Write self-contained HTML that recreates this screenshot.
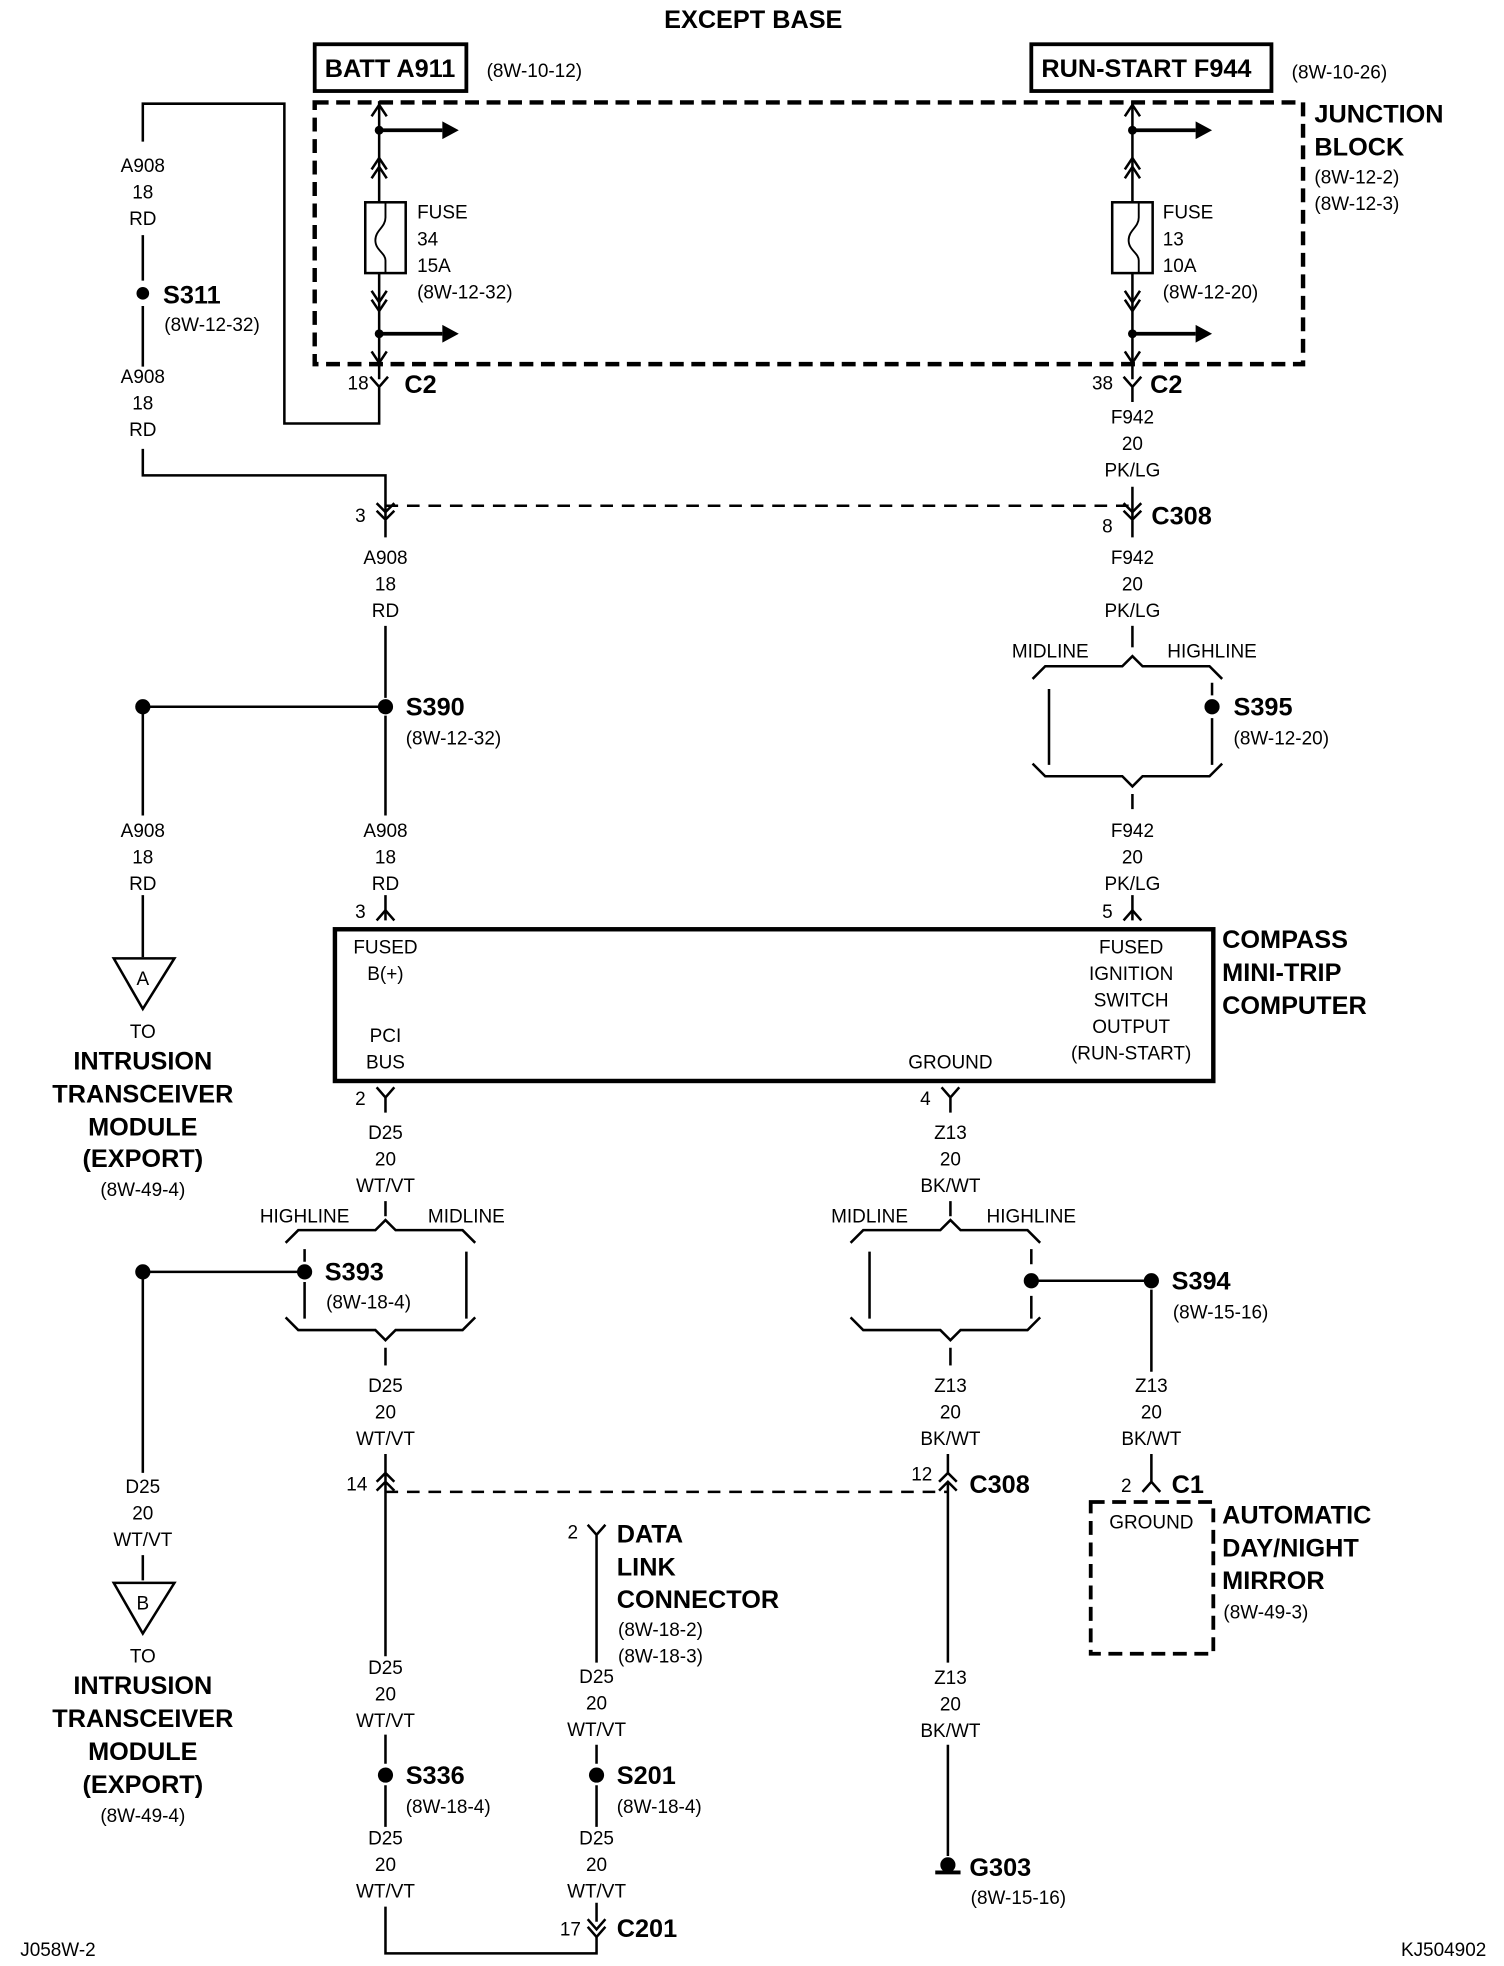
<!DOCTYPE html>
<html><head><meta charset="utf-8">
<style>
html,body{margin:0;padding:0;background:#fff;}
svg{display:block;}
text{font-family:"Liberation Sans Narrow","Liberation Sans",sans-serif;fill:#000;}
.t{font-size:15px;text-anchor:middle;}
.l{font-size:15px;}
.b{font-size:20px;font-weight:bold;}
.bc{font-size:20px;font-weight:bold;text-anchor:middle;}
</style></head><body>
<svg width="1504" height="1966" viewBox="0 0 1190 1555" preserveAspectRatio="none" xmlns="http://www.w3.org/2000/svg">
<g fill="none" stroke="#000" stroke-width="2">
<!-- top boxes -->
<rect x="249" y="35" width="120" height="37" stroke-width="3"/>
<rect x="816" y="35" width="190" height="37" stroke-width="3"/>
<rect x="249" y="81" width="782" height="207" stroke-width="3.5" stroke-dasharray="11,6"/>
<!-- left fuse chain -->
<path d="M300 80 V300"/>
<path d="M294 92 L300 83 L306 92"/>
<path d="M294 134 L300 125 L306 134 M294 141 L300 132 L306 141"/>
<path d="M294 230 L300 239 L306 230 M294 237 L300 246 L306 237"/>
<path d="M294 278 L300 287 L306 278"/>
<rect x="289" y="160" width="32" height="56" fill="#fff"/>
<path d="M305 160 V172 C305 180 297 182 297 190 C297 198 305 200 305 206 V216" stroke-width="1.5"/>
<path d="M300 103 H350 M300 264 H350" stroke-width="3"/>
<path d="M293 298 L300 306 L307 298 M300 306 V335 H225 V82 H113 V112"/>
<!-- right fuse chain -->
<path d="M896 80 V300"/>
<path d="M890 92 L896 83 L902 92"/>
<path d="M890 134 L896 125 L902 134 M890 141 L896 132 L902 141"/>
<path d="M890 230 L896 239 L902 230 M890 237 L896 246 L902 237"/>
<path d="M890 278 L896 287 L902 278"/>
<rect x="880" y="160" width="32" height="56" fill="#fff"/>
<path d="M901 160 V172 C901 180 893 182 893 190 C893 198 901 200 901 206 V216" stroke-width="1.5"/>
<path d="M896 103 H946 M896 264 H946" stroke-width="3"/>
<path d="M889 298 L896 306 L903 298 M896 306 V318"/>
<!-- left A908 -->
<path d="M113 186 V222 M113 242 V290 M113 355 V376 H305 V412"/>
<path d="M298 398 L305 405 L312 398 M298 404 L305 411 L312 404"/>
<path d="M305 400 H896" stroke-dasharray="10,7"/>
<path d="M896 385 V412"/>
<path d="M889 398 L896 405 L903 398 M889 404 L896 411 L903 404"/>
<path d="M305 412 V425 M896 412 V425"/>
<path d="M305 495 V552 M305 566 V645 M305 708 V728"/>
<path d="M298 728 L305 720 L312 728"/>
<path d="M113 559 H305 M113 559 V645 M113 708 V757"/>
<path d="M90 758 H138 L113 798 Z"/>
<!-- right bracket S395 -->
<path d="M896 495 V512"/>
<path d="M817 537 L827 527 H888 L896 519 L904 527 H957 L967 537"/>
<path d="M830 545 V605 M959 540 V550 M959 568 V605"/>
<path d="M817 604 L827 614 H888 L896 622 L904 614 H957 L967 604"/>
<path d="M896 628 V640 M896 708 V728"/>
<path d="M889 728 L896 720 L903 728"/>
<!-- compass box -->
<rect x="265" y="735" width="695" height="120" stroke-width="3.5"/>
<!-- below box left -->
<path d="M298 860 L305 868 L312 860 M305 868 V880 M305 950 V962"/>
<path d="M226 983 L236 973 H297 L305 965 L313 973 H366 L376 983"/>
<path d="M241 988 V998 M241 1014 V1043 M369 990 V1043"/>
<path d="M226 1042 L236 1052 H297 L305 1060 L313 1052 H366 L376 1042"/>
<path d="M305 1066 V1080"/>
<path d="M113 1006 H241 M113 1006 V1165 M113 1230 V1250"/>
<path d="M90 1252 H138 L113 1292 Z"/>
<path d="M305 1150 V1310 M298 1172 L305 1165 L312 1172 M298 1179 L305 1172 L312 1179"/>
<path d="M305 1180 H750" stroke-dasharray="10,7"/>
<path d="M305 1372 V1395 M305 1412 V1445 M305 1508 V1545 H472 V1532"/>
<path d="M465 1518 L472 1526 L479 1518 M465 1524 L472 1532 L479 1524 M472 1505 V1520"/>
<!-- data link -->
<path d="M465 1206 L472 1214 L479 1206 M472 1214 V1315 M472 1380 V1395 M472 1412 V1445"/>
<!-- ground Z13 -->
<path d="M745 860 L752 868 L759 860 M752 868 V880 M752 950 V962"/>
<path d="M673 983 L683 973 H744 L752 965 L760 973 H813 L823 983"/>
<path d="M688 990 V1043 M816 988 V1000 M816 1025 V1043"/>
<path d="M673 1042 L683 1052 H744 L752 1060 L760 1052 H813 L823 1042"/>
<path d="M752 1066 V1080"/>
<path d="M816 1013 H911 M911 1020 V1085"/>
<path d="M743 1172 L750 1165 L757 1172 M743 1179 L750 1172 L757 1179 M750 1150 V1166 M750 1172 V1315 M750 1380 V1468"/>
<path d="M904 1180 L911 1172 L918 1180 M911 1150 V1172"/>
<rect x="863" y="1188" width="97" height="120" stroke-width="3" stroke-dasharray="11,6"/>
<path d="M740 1481 H760" stroke-width="3"/>
</g>
<g fill="#000">
<polygon points="350,96 363,103 350,110"/><polygon points="350,257 363,264 350,271"/>
<polygon points="946,96 959,103 946,110"/><polygon points="946,257 959,264 946,271"/>
<circle cx="300" cy="103" r="3.5"/><circle cx="300" cy="264" r="3.5"/>
<circle cx="896" cy="103" r="3.5"/><circle cx="896" cy="264" r="3.5"/>
<circle cx="113" cy="232" r="5"/><circle cx="305" cy="559" r="6"/><circle cx="113" cy="559" r="6"/>
<circle cx="959" cy="559" r="6"/><circle cx="241" cy="1006" r="6"/><circle cx="113" cy="1006" r="6"/>
<circle cx="816" cy="1013" r="6"/><circle cx="911" cy="1013" r="6"/>
<circle cx="305" cy="1404" r="6"/><circle cx="472" cy="1404" r="6"/>
<circle cx="750" cy="1475" r="6"/>
</g>
<text class="bc" x="596" y="22" font-size="22">EXCEPT BASE</text>
<text class="b" x="257" y="61">BATT A911</text><text class="l" x="385" y="61">(8W-10-12)</text>
<text class="b" x="824" y="61">RUN-START F944</text><text class="l" x="1022" y="62">(8W-10-26)</text>
<text class="b" x="1040" y="97">JUNCTION</text><text class="b" x="1040" y="123">BLOCK</text>
<text class="l" x="1040" y="145">(8W-12-2)</text><text class="l" x="1040" y="166">(8W-12-3)</text>
<text class="l" x="330" y="173">FUSE</text><text class="l" x="330" y="194">34</text><text class="l" x="330" y="215">15A</text><text class="l" x="330" y="236">(8W-12-32)</text>
<text class="l" x="920" y="173">FUSE</text><text class="l" x="920" y="194">13</text><text class="l" x="920" y="215">10A</text><text class="l" x="920" y="236">(8W-12-20)</text>
<text class="t" x="113" y="136">A908</text><text class="t" x="113" y="157">18</text><text class="t" x="113" y="178">RD</text>
<text class="b" x="129" y="240">S311</text><text class="l" x="130" y="262">(8W-12-32)</text>
<text class="t" x="113" y="303">A908</text><text class="t" x="113" y="324">18</text><text class="t" x="113" y="345">RD</text>
<text class="l" x="275" y="308">18</text><text class="b" x="320" y="311">C2</text>
<text class="l" x="864" y="308">38</text><text class="b" x="910" y="311">C2</text>
<text class="t" x="896" y="335">F942</text><text class="t" x="896" y="356">20</text><text class="t" x="896" y="377">PK/LG</text>
<text class="l" x="281" y="413">3</text><text class="l" x="872" y="421">8</text><text class="b" x="911" y="415">C308</text>
<text class="t" x="305" y="446">A908</text><text class="t" x="305" y="467">18</text><text class="t" x="305" y="488">RD</text>
<text class="t" x="896" y="446">F942</text><text class="t" x="896" y="467">20</text><text class="t" x="896" y="488">PK/LG</text>
<text class="t" x="831" y="520">MIDLINE</text><text class="t" x="959" y="520">HIGHLINE</text>
<text class="b" x="976" y="566">S395</text><text class="l" x="976" y="589">(8W-12-20)</text>
<text class="b" x="321" y="566">S390</text><text class="l" x="321" y="589">(8W-12-32)</text>
<text class="t" x="113" y="662">A908</text><text class="t" x="113" y="683">18</text><text class="t" x="113" y="704">RD</text>
<text class="t" x="305" y="662">A908</text><text class="t" x="305" y="683">18</text><text class="t" x="305" y="704">RD</text>
<text class="t" x="896" y="662">F942</text><text class="t" x="896" y="683">20</text><text class="t" x="896" y="704">PK/LG</text>
<text class="l" x="281" y="726">3</text><text class="l" x="872" y="726">5</text>
<text class="t" x="113" y="779" font-size="13">A</text>
<text class="t" x="113" y="821">TO</text>
<text class="bc" x="113" y="846">INTRUSION</text><text class="bc" x="113" y="872">TRANSCEIVER</text><text class="bc" x="113" y="898">MODULE</text><text class="bc" x="113" y="923">(EXPORT)</text>
<text class="t" x="113" y="946">(8W-49-4)</text>
<text class="t" x="305" y="754">FUSED</text><text class="t" x="305" y="775">B(+)</text>
<text class="t" x="305" y="824">PCI</text><text class="t" x="305" y="845">BUS</text>
<text class="t" x="752" y="845">GROUND</text>
<text class="t" x="895" y="754">FUSED</text><text class="t" x="895" y="775">IGNITION</text><text class="t" x="895" y="796">SWITCH</text><text class="t" x="895" y="817">OUTPUT</text><text class="t" x="895" y="838">(RUN-START)</text>
<text class="b" x="967" y="750">COMPASS</text><text class="b" x="967" y="776">MINI-TRIP</text><text class="b" x="967" y="802">COMPUTER</text>
<text class="l" x="281" y="874">2</text><text class="l" x="728" y="874">4</text>
<text class="t" x="305" y="901">D25</text><text class="t" x="305" y="922">20</text><text class="t" x="305" y="943">WT/VT</text>
<text class="t" x="752" y="901">Z13</text><text class="t" x="752" y="922">20</text><text class="t" x="752" y="943">BK/WT</text>
<text class="t" x="241" y="967">HIGHLINE</text><text class="t" x="369" y="967">MIDLINE</text>
<text class="t" x="688" y="967">MIDLINE</text><text class="t" x="816" y="967">HIGHLINE</text>
<text class="b" x="257" y="1013">S393</text><text class="l" x="258" y="1035">(8W-18-4)</text>
<text class="b" x="927" y="1020">S394</text><text class="l" x="928" y="1043">(8W-15-16)</text>
<text class="t" x="305" y="1101">D25</text><text class="t" x="305" y="1122">20</text><text class="t" x="305" y="1143">WT/VT</text>
<text class="t" x="752" y="1101">Z13</text><text class="t" x="752" y="1122">20</text><text class="t" x="752" y="1143">BK/WT</text>
<text class="t" x="911" y="1101">Z13</text><text class="t" x="911" y="1122">20</text><text class="t" x="911" y="1143">BK/WT</text>
<text class="l" x="274" y="1179">14</text><text class="l" x="721" y="1171">12</text><text class="b" x="767" y="1181">C308</text>
<text class="l" x="887" y="1180">2</text><text class="b" x="927" y="1181">C1</text>
<text class="t" x="113" y="1181">D25</text><text class="t" x="113" y="1202">20</text><text class="t" x="113" y="1223">WT/VT</text>
<text class="t" x="113" y="1273" font-size="13">B</text>
<text class="t" x="113" y="1315">TO</text>
<text class="bc" x="113" y="1340">INTRUSION</text><text class="bc" x="113" y="1366">TRANSCEIVER</text><text class="bc" x="113" y="1392">MODULE</text><text class="bc" x="113" y="1418">(EXPORT)</text>
<text class="t" x="113" y="1441">(8W-49-4)</text>
<text class="t" x="911" y="1209">GROUND</text>
<text class="b" x="967" y="1205">AUTOMATIC</text><text class="b" x="967" y="1231">DAY/NIGHT</text><text class="b" x="967" y="1257">MIRROR</text><text class="l" x="968" y="1280">(8W-49-3)</text>
<text class="l" x="449" y="1217">2</text>
<text class="b" x="488" y="1220">DATA</text><text class="b" x="488" y="1246">LINK</text><text class="b" x="488" y="1272">CONNECTOR</text>
<text class="l" x="489" y="1294">(8W-18-2)</text><text class="l" x="489" y="1315">(8W-18-3)</text>
<text class="t" x="305" y="1324">D25</text><text class="t" x="305" y="1345">20</text><text class="t" x="305" y="1366">WT/VT</text>
<text class="t" x="472" y="1331">D25</text><text class="t" x="472" y="1352">20</text><text class="t" x="472" y="1373">WT/VT</text>
<text class="t" x="752" y="1332">Z13</text><text class="t" x="752" y="1353">20</text><text class="t" x="752" y="1374">BK/WT</text>
<text class="b" x="321" y="1411">S336</text><text class="l" x="321" y="1434">(8W-18-4)</text>
<text class="b" x="488" y="1411">S201</text><text class="l" x="488" y="1434">(8W-18-4)</text>
<text class="t" x="305" y="1459">D25</text><text class="t" x="305" y="1480">20</text><text class="t" x="305" y="1501">WT/VT</text>
<text class="t" x="472" y="1459">D25</text><text class="t" x="472" y="1480">20</text><text class="t" x="472" y="1501">WT/VT</text>
<text class="l" x="443" y="1531">17</text><text class="b" x="488" y="1532">C201</text>
<text class="b" x="767" y="1484">G303</text><text class="l" x="768" y="1506">(8W-15-16)</text>
<text class="l" x="16" y="1547">J058W-2</text>
<text class="l" x="1176" y="1547" text-anchor="end">KJ504902</text>
</svg>
</body></html>
